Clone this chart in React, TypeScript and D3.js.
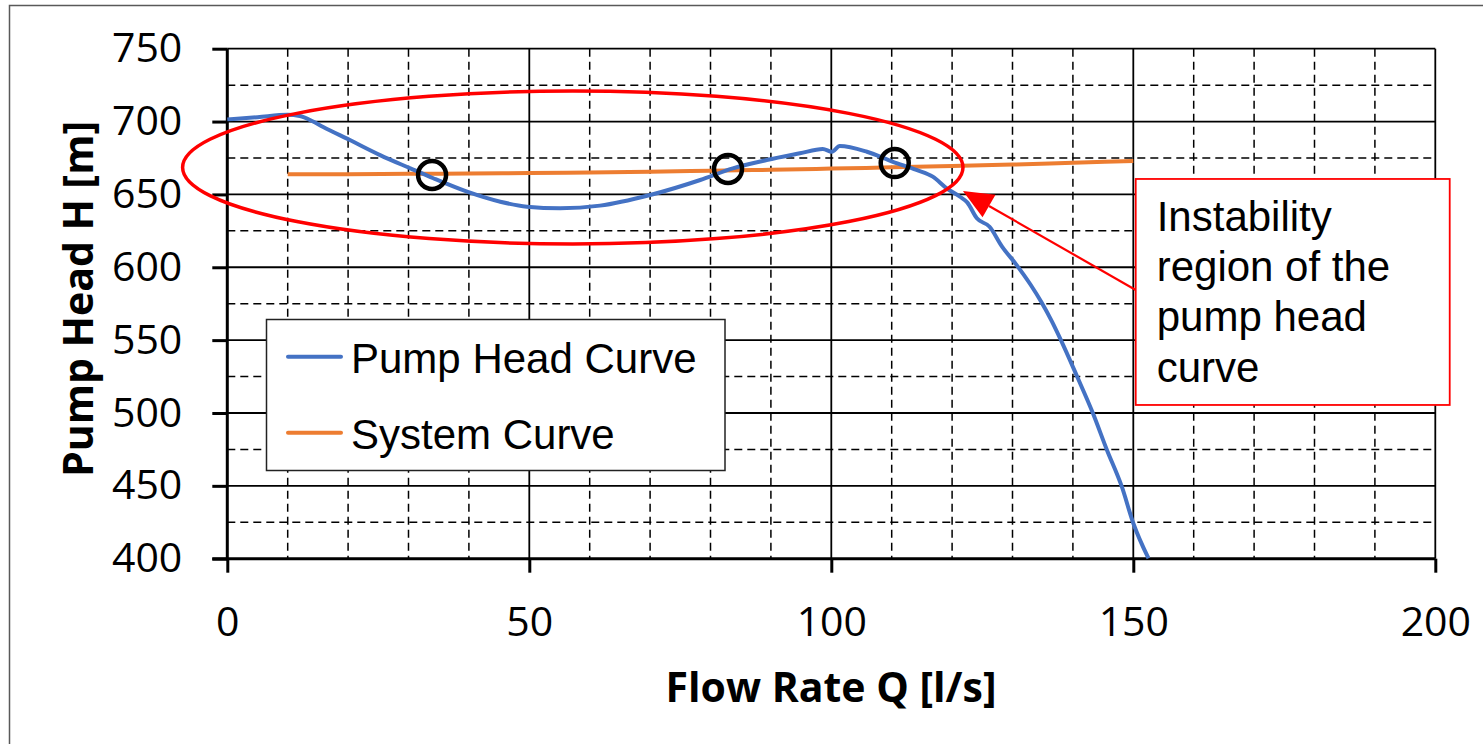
import * as d3 from "d3";
import { useEffect, useRef } from "react";

// pump head curve
const pumpQ = [0, 5, 10, 12, 14.2, 15.8, 20.3, 25.3, 30.3, 34.1, 39.7, 45.2, 49.6, 55.1, 61.7, 70, 78.3, 83.7, 89.3, 94.8, 98.6, 100.1, 101.4, 105.9, 110.2, 114.1, 116.8, 119.1, 121.3, 122.5, 124.1, 126.2, 128.3, 130.6, 133, 134.8, 136.5, 137.9, 140.7, 143.3, 145.6, 148.1, 150, 152.5];
const pumpH = [701.5, 703, 704.6, 703.8, 700, 696.5, 687.3, 677, 667.9, 661.1, 651.9, 645, 641.6, 640.5, 642.3, 649.6, 659.9, 667.9, 673.6, 678.2, 681.2, 679.3, 683.2, 679.3, 672.4, 666.8, 662.2, 654.2, 648.4, 644.5, 633.6, 627.8, 614, 602, 588, 576, 563, 551, 525, 500, 475, 449.4, 424.3, 400.3];

// system curve
const sysQ = [10, 20, 30, 40, 50, 60, 70, 80, 90, 100, 110, 120, 130, 140, 150];
const sysH = [663.8, 663.9, 664.1, 664.4, 664.7, 665.1, 665.6, 666.2, 666.9, 667.7, 668.6, 669.5, 670.5, 671.7, 672.9];

// operating points (black circles)
const opQ = [33.9, 82.9, 110.5];
const opH = [663.3, 667.4, 671.5];

const yTicks = [400, 450, 500, 550, 600, 650, 700, 750];
const xTicks = [0, 50, 100, 150, 200];
const seriesNames = ["Pump Head Curve", "System Curve"];
const noteLines = ["Instability", "region of the", "pump head", "curve"];

const App = () => {
  const ref = useRef<SVGSVGElement>(null);

  useEffect(() => {
    const svg = d3.select(ref.current);
    svg.selectAll("*").remove();

    const x = d3.scaleLinear().domain([0, 200]).range([227.3, 1435.3]);
    const y = d3.scaleLinear().domain([400, 750]).range([558.7, 48.7]);
    const tickFont = "'Open Sans', sans-serif";
    const txtFont = "'Liberation Sans', Arial, sans-serif";

    svg.append("rect").attr("width", 1483).attr("height", 744).attr("fill", "#fff");
    // outer chart frame
    svg.append("rect").attr("x", 9.5).attr("y", 5.5).attr("width", 1490).attr("height", 760)
      .attr("fill", "none").attr("stroke", "#595959").attr("stroke-width", 1.5);

    // grid
    const g = svg.append("g");
    d3.range(10, 200, 10).filter((v) => v % 50 !== 0).forEach((v) => {
      g.append("line").attr("x1", x(v)).attr("x2", x(v)).attr("y1", y(750)).attr("y2", y(400))
        .attr("stroke", "#000").attr("stroke-width", 1.5).attr("stroke-dasharray", "8,5");
    });
    d3.range(425, 750, 50).forEach((v) => {
      g.append("line").attr("x1", x(0)).attr("x2", x(200)).attr("y1", y(v)).attr("y2", y(v))
        .attr("stroke", "#000").attr("stroke-width", 1.5).attr("stroke-dasharray", "8,5");
    });
    yTicks.slice(1).forEach((v) => {
      g.append("line").attr("x1", x(0)).attr("x2", x(200)).attr("y1", y(v)).attr("y2", y(v))
        .attr("stroke", "#000").attr("stroke-width", 1.8);
    });
    xTicks.slice(1).forEach((v) => {
      g.append("line").attr("x1", x(v)).attr("x2", x(v)).attr("y1", y(750)).attr("y2", y(400))
        .attr("stroke", "#000").attr("stroke-width", 1.8);
    });

    // axes
    const yAxis = svg.append("g").attr("transform", `translate(${x(0)},0)`)
      .call(d3.axisLeft(y).tickValues(yTicks).tickSize(15).tickPadding(30).tickFormat(d3.format("d")));
    const xAxis = svg.append("g").attr("transform", `translate(0,${y(400)})`)
      .call(d3.axisBottom(x).tickValues(xTicks).tickSize(14).tickPadding(34).tickFormat(d3.format("d")));
    [yAxis, xAxis].forEach((a) => {
      a.select(".domain").remove();
      a.selectAll(".tick line").attr("stroke", "#000").attr("stroke-width", 3);
      a.selectAll(".tick text").attr("font-family", tickFont).attr("font-size", 41).attr("fill", "#000");
    });
    svg.append("line").attr("x1", x(0)).attr("x2", x(0)).attr("y1", y(750)).attr("y2", y(400) + 1.5)
      .attr("stroke", "#000").attr("stroke-width", 3);
    svg.append("line").attr("x1", x(0) - 15).attr("x2", x(200)).attr("y1", y(400)).attr("y2", y(400))
      .attr("stroke", "#000").attr("stroke-width", 3);

    // axis titles
    svg.append("text").attr("x", 831).attr("y", 702).attr("text-anchor", "middle")
      .attr("font-family", tickFont).attr("font-weight", "bold").attr("font-size", 41)
      .text("Flow Rate Q [l/s]");
    svg.append("text").attr("transform", "translate(93,299) rotate(-90)").attr("text-anchor", "middle")
      .attr("font-family", tickFont).attr("font-weight", "bold").attr("font-size", 41)
      .text("Pump Head H [m]");

    // curves
    const pump = pumpQ.map((q, i) => [q, pumpH[i]] as [number, number]);
    const sys = sysQ.map((q, i) => [q, sysH[i]] as [number, number]);
    const line = d3.line<[number, number]>().x((d) => x(d[0])).y((d) => y(d[1])).curve(d3.curveMonotoneX);
    svg.append("path").attr("d", line(sys)).attr("fill", "none").attr("stroke", "#ED7D31").attr("stroke-width", 4);
    svg.append("path").attr("d", line(pump)).attr("fill", "none").attr("stroke", "#4472C4").attr("stroke-width", 4)
      .attr("stroke-linejoin", "round");

    // instability ellipse
    svg.append("ellipse").attr("cx", x(57.2)).attr("cy", y(668.5))
      .attr("rx", x(64.6) - x(0)).attr("ry", y(750 - 52.5) - y(750))
      .attr("fill", "none").attr("stroke", "#FF0000").attr("stroke-width", 3.5);

    // operating points
    svg.selectAll(".op").data(opQ).join("circle")
      .attr("cx", (d) => x(d)).attr("cy", (_, i) => y(opH[i])).attr("r", 14)
      .attr("fill", "none").attr("stroke", "#000").attr("stroke-width", 4.5);

    // legend
    const lg = svg.append("g");
    lg.append("rect").attr("x", 266.5).attr("y", 319.5).attr("width", 458.5).attr("height", 151)
      .attr("fill", "#fff").attr("stroke", "#222").attr("stroke-width", 1.5);
    seriesNames.forEach((name, i) => {
      const ly = 356.7 + i * 76;
      lg.append("line").attr("x1", 288).attr("x2", 341).attr("y1", ly).attr("y2", ly)
        .attr("stroke", i === 0 ? "#4472C4" : "#ED7D31").attr("stroke-width", 4).attr("stroke-linecap", "round");
      lg.append("text").attr("x", 351).attr("y", ly + 16.5).attr("font-family", txtFont).attr("font-size", 42)
        .text(name);
    });

    // annotation arrow + box
    const tipX = x(121.8), tipY = y(652.3);
    const tailX = x(150.4), tailY = y(584.4);
    const ang = Math.atan2(tailY - tipY, tailX - tipX);
    const hl = 30, hw = 13;
    const bx = tipX + hl * Math.cos(ang), by = tipY + hl * Math.sin(ang);
    svg.append("line").attr("x1", bx).attr("y1", by).attr("x2", tailX).attr("y2", tailY)
      .attr("stroke", "#FF0000").attr("stroke-width", 2.2);
    svg.append("path").attr("fill", "#FF0000").attr("d",
      `M${tipX},${tipY}L${bx - hw * Math.sin(ang)},${by + hw * Math.cos(ang)}L${bx + hw * Math.sin(ang)},${by - hw * Math.cos(ang)}Z`);

    const boxX = x(150.4), boxY = y(660.6);
    svg.append("rect").attr("x", boxX).attr("y", boxY).attr("width", 314).attr("height", 226)
      .attr("fill", "#fff").attr("stroke", "#FF0000").attr("stroke-width", 1.8);
    noteLines.forEach((t, i) => {
      svg.append("text").attr("x", boxX + 21).attr("y", boxY + 51.7 + i * 50.4)
        .attr("font-family", txtFont).attr("font-size", 42).text(t);
    });
  }, []);

  return <svg ref={ref} width={1483} height={744} style={{ position: "absolute", left: 0, top: 0 }} />;
};

export default App;
